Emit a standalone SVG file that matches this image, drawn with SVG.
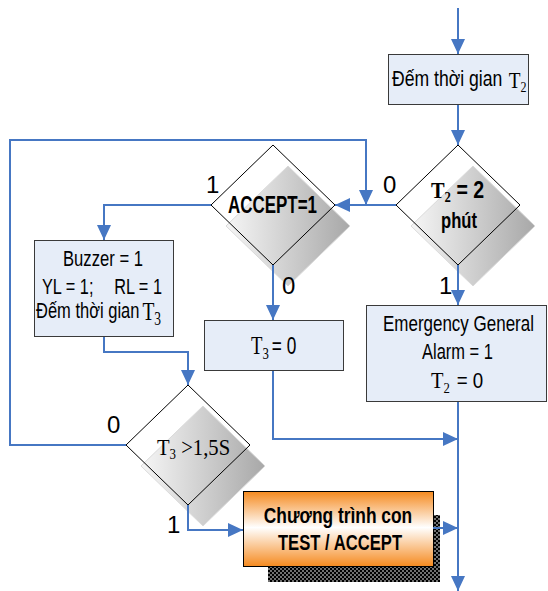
<svg xmlns="http://www.w3.org/2000/svg" width="548" height="591" viewBox="0 0 548 591">
<defs>
  <linearGradient id="diamondShade" x1="0" y1="0" x2="1" y2="0">
    <stop offset="0" stop-color="#f6f6f6"/>
    <stop offset="1" stop-color="#a8a8a8"/>
  </linearGradient>
  <linearGradient id="orangeFill" x1="0" y1="0" x2="0" y2="1">
    <stop offset="0" stop-color="#f58a1f"/>
    <stop offset="0.48" stop-color="#ffffff"/>
    <stop offset="1" stop-color="#f58a1f"/>
  </linearGradient>
  <pattern id="dots" width="4" height="4" patternUnits="userSpaceOnUse">
    <rect width="4" height="4" fill="#000"/>
    <circle cx="1" cy="1" r="0.8" fill="#fff"/>
    <circle cx="3" cy="3" r="0.8" fill="#fff"/>
  </pattern>
  <marker id="arrow" markerUnits="userSpaceOnUse" markerWidth="15" markerHeight="14" viewBox="0 0 15 14" refX="15" refY="7" orient="auto">
    <path d="M0,0 L15,7 L0,14 z" fill="#4677c3"/>
  </marker>
</defs>
<style>
  .box { fill:#e6edf8; stroke:#3a3a3a; stroke-width:1; }
  .shade { fill:url(#diamondShade); stroke:#dadada; stroke-width:1; }
  .outline { fill:none; stroke:#000; stroke-width:1; }
  .conn { fill:none; stroke:#4677c3; stroke-width:2; }
  .conn-arrow { marker-end:url(#arrow); }
  .sans { font-family:"Liberation Sans", Arial, sans-serif; fill:#000; }
  .serif { font-family:"Liberation Serif", "Times New Roman", serif; fill:#000; }
  .b { font-weight:bold; }
  .mid { text-anchor:middle; }
  .lbl { font-family:"Liberation Sans", Arial, sans-serif; font-size:24px; fill:#000; }
</style>

<!-- process: start timer T2 -->
<g id="n-count-t2">
  <rect class="box" x="388.5" y="54.5" width="140" height="50"/>
  <text class="sans" font-size="22" transform="translate(392,86) scale(0.8,1)">Đếm thời gian<tspan class="serif" font-size="24" dx="8" dy="2">T</tspan><tspan class="serif" font-size="15" dy="4">2</tspan></text>
</g>

<!-- decision: T2 = 2 minutes -->
<g id="n-t2-check">
  <polygon class="shade" points="473,166 535,226 473,286 411,226"/>
  <polygon class="outline" points="458,145 520,205 458,265 396,205"/>
  <text class="serif b" font-size="24" transform="translate(431,198) scale(0.85,1)">T<tspan font-size="15" dy="4">2</tspan><tspan class="sans" font-size="23" dy="-4"> = 2</tspan></text>
  <text class="sans b" font-size="22" transform="translate(441,228) scale(0.755,1)">phút</text>
</g>

<!-- decision: ACCEPT pressed -->
<g id="n-accept">
  <polygon class="shade" points="288,166 350,226 288,286 226,226"/>
  <polygon class="outline" points="273,145 335,205 273,265 211,205"/>
  <text class="sans b" font-size="23" transform="translate(228,213) scale(0.737,1)">ACCEPT=1</text>
</g>

<!-- process: buzzer and lamps on, start T3 -->
<g id="n-buzzer">
  <rect class="box" x="34.5" y="240.5" width="139" height="96"/>
  <text class="sans" font-size="22" transform="translate(63,266) scale(0.756,1)">Buzzer = 1</text>
  <text class="sans" font-size="22" transform="translate(42,294) scale(0.74,1)">YL = 1;<tspan dx="28">RL = 1</tspan></text>
  <text class="sans" font-size="22" transform="translate(36,318) scale(0.75,1)">Đếm thời gian<tspan class="serif" font-size="26" dx="4" dy="2">T</tspan><tspan class="serif" font-size="18" dy="5">3</tspan></text>
</g>

<!-- process: reset T3 -->
<g id="n-t3-reset">
  <rect class="box" x="204.5" y="320.5" width="139" height="50"/>
  <text class="serif" font-size="25" transform="translate(251,354) scale(0.75,1)">T<tspan font-size="17" dy="5">3</tspan><tspan class="sans" font-size="23" dx="4" dy="-5">= 0</tspan></text>
</g>

<!-- process: general alarm, reset T2 -->
<g id="n-emergency">
  <rect class="box" x="366.5" y="305.5" width="180" height="96"/>
  <text class="sans" font-size="22" transform="translate(383,331) scale(0.772,1)">Emergency General</text>
  <text class="sans" font-size="22" transform="translate(422,359) scale(0.749,1)">Alarm = 1</text>
  <text class="serif" font-size="24" transform="translate(431,388) scale(0.85,1)">T<tspan font-size="15" dy="5">2</tspan><tspan class="sans" font-size="22" dx="8" dy="-5">= 0</tspan></text>
</g>

<!-- decision: T3 over 1.5 s -->
<g id="n-t3-check">
  <polygon class="shade" points="203,406 265,466 203,526 141,466"/>
  <polygon class="outline" points="188,385 250,445 188,505 126,445"/>
  <text class="serif" font-size="24" transform="translate(157,455) scale(0.86,1)">T<tspan font-size="15" dy="4">3</tspan><tspan dy="-4"> &gt;1,5S</tspan></text>
</g>

<!-- subroutine: TEST / ACCEPT -->
<g id="n-test-accept">
  <rect x="268" y="515" width="172" height="67" fill="url(#dots)"/>
  <rect x="243.5" y="491.5" width="190" height="75" fill="url(#orangeFill)" stroke="#000" stroke-width="1"/>
  <text class="sans b mid" font-size="22" transform="translate(338,523) scale(0.79,1)">Chương trình con</text>
  <text class="sans b mid" font-size="22" transform="translate(340,550) scale(0.756,1)">TEST / ACCEPT</text>
</g>

<!-- connectors -->
<g id="connectors">
  <path class="conn conn-arrow" d="M458,8 V54"/>
  <path class="conn conn-arrow" d="M458,105 V145"/>
  <path class="conn conn-arrow" d="M396,205 H335"/>
  <path class="conn conn-arrow" d="M126,445 H10 V140 H366 V205"/>
  <path class="conn conn-arrow" d="M211,205 H104 V240"/>
  <path class="conn conn-arrow" d="M273,265 V320"/>
  <path class="conn conn-arrow" d="M458,265 V305"/>
  <path class="conn conn-arrow" d="M104,337 V352 H188 V385"/>
  <path class="conn conn-arrow" d="M273,371 V439 H458"/>
  <path class="conn conn-arrow" d="M458,402 V591"/>
  <path class="conn conn-arrow" d="M188,505 V530 H243"/>
  <path class="conn conn-arrow" d="M433,528 H458"/>
</g>

<!-- branch labels -->
<g id="edge-labels">
  <text class="lbl" x="206" y="193">1</text>
  <text class="lbl" x="383" y="193">0</text>
  <text class="lbl" x="282" y="294">0</text>
  <text class="lbl" x="439" y="294">1</text>
  <text class="lbl" x="107" y="433">0</text>
  <text class="lbl" x="167" y="533">1</text>
</g>
</svg>
